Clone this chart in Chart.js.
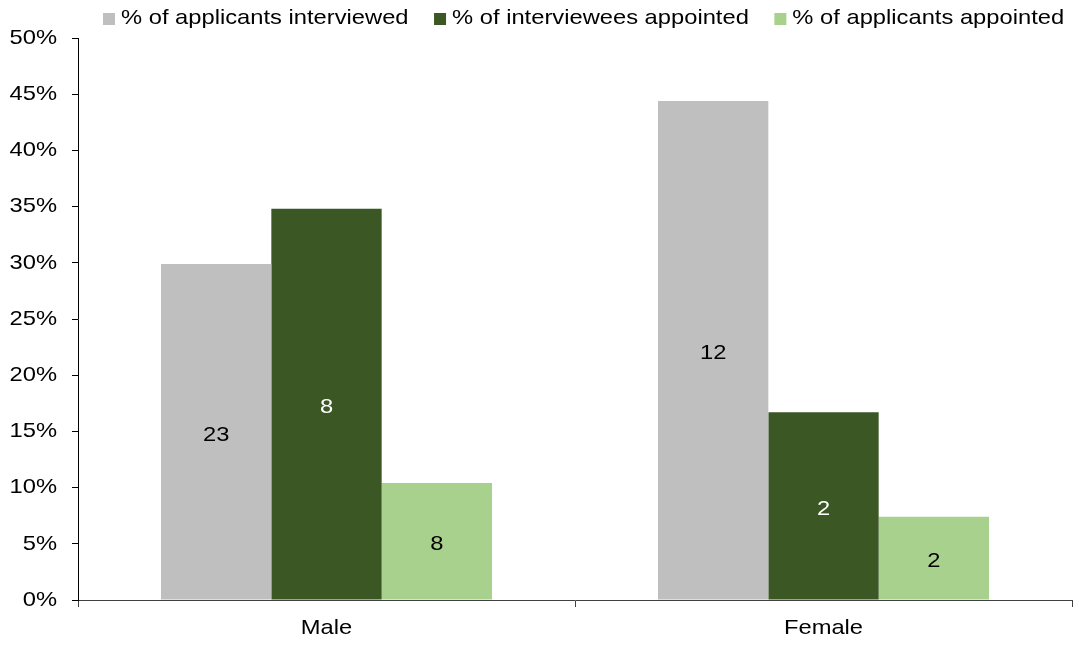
<!DOCTYPE html>
<html lang="en">
<head>
  <meta charset="UTF-8" />
  <title>Interview and appointment rates by gender</title>
  <script src="https://cdn.jsdelivr.net/npm/chart.js"></script>
  <style>
    html, body { margin: 0; padding: 0; background: #fff; }
    .chart-container { width: 1079px; height: 646px; position: relative; }
  </style>
</head>
<body>
<div class="chart-container">
  <canvas id="genderChart"></canvas>
</div>

<script>
  const categories = ["Male", "Female"];
  const seriesNames = ["% of applicants interviewed", "% of interviewees appointed", "% of applicants appointed"];
  const interviewedPct = [29.9, 44.4];
  const intervieweesAppointedPct = [34.8, 16.7];
  const applicantsAppointedPct = [10.4, 7.4];
  // counts printed inside the bars
  const interviewedCount = [23, 12];
  const intervieweesAppointedCount = [8, 2];
  const applicantsAppointedCount = [8, 2];

  const FONT = "'Liberation Sans', Arial, sans-serif";
  const FS = 21;
  const TEXT_STRETCH = 1.13; // original text is a bit wider than plain Arial

  const ctx = document.getElementById("genderChart").getContext("2d");

  // stretch all text horizontally (chart.js measures through the same ctx)
  const protoFill = CanvasRenderingContext2D.prototype.fillText;
  const protoMeasure = CanvasRenderingContext2D.prototype.measureText;
  ctx.fillText = function (text, x, y, maxWidth) {
    this.save();
    this.translate(x, y);
    this.scale(TEXT_STRETCH, 1);
    if (maxWidth === undefined) protoFill.call(this, text, 0, 0);
    else protoFill.call(this, text, 0, 0, maxWidth / TEXT_STRETCH);
    this.restore();
  };
  ctx.measureText = function (text) {
    const m = protoMeasure.call(this, text);
    return {
      width: m.width * TEXT_STRETCH,
      actualBoundingBoxAscent: m.actualBoundingBoxAscent,
      actualBoundingBoxDescent: m.actualBoundingBoxDescent,
      actualBoundingBoxLeft: m.actualBoundingBoxLeft * TEXT_STRETCH,
      actualBoundingBoxRight: m.actualBoundingBoxRight * TEXT_STRETCH
    };
  };

  // writes the counts in the middle of each bar
  const barCounts = {
    id: "barCounts",
    afterDatasetsDraw(chart) {
      const c = chart.ctx;
      c.save();
      c.font = FS + "px " + FONT;
      c.textAlign = "center";
      c.textBaseline = "middle";
      chart.data.datasets.forEach((ds, i) => {
        chart.getDatasetMeta(i).data.forEach((bar, j) => {
          c.fillStyle = ds.labelColor;
          c.fillText(ds.counts[j], bar.x, (bar.y + bar.base) / 2 + 3);
        });
      });
      c.restore();
    }
  };

  // legend row like the original: small square, tight gap, text
  const topLegend = {
    id: "topLegend",
    afterDraw(chart) {
      const c = chart.ctx;
      c.save();
      c.font = FS + "px " + FONT;
      c.textAlign = "left";
      c.textBaseline = "middle";
      let x = 103;
      const y = 18;
      chart.data.datasets.forEach((ds) => {
        c.fillStyle = ds.backgroundColor;
        c.fillRect(x, 13, 12, 12);
        x += 18;
        c.fillStyle = "#000";
        c.fillText(ds.label, x, y);
        x += c.measureText(ds.label).width + 25.5;
      });
      c.restore();
    }
  };

  new Chart(ctx, {
    type: "bar",
    data: {
      labels: categories,
      datasets: [
        {
          label: seriesNames[0],
          data: interviewedPct,
          counts: interviewedCount,
          labelColor: "#000",
          backgroundColor: "#bfbfbf"
        },
        {
          label: seriesNames[1],
          data: intervieweesAppointedPct,
          counts: intervieweesAppointedCount,
          labelColor: "#fff",
          backgroundColor: "#3b5724"
        },
        {
          label: seriesNames[2],
          data: applicantsAppointedPct,
          counts: applicantsAppointedCount,
          labelColor: "#000",
          backgroundColor: "#a9d18e"
        }
      ]
    },
    options: {
      responsive: true,
      maintainAspectRatio: false,
      animation: false,
      categoryPercentage: 0.666,
      barPercentage: 1.0,
      layout: { padding: { left: 0, right: 7, top: 38, bottom: 0 } },
      plugins: {
        legend: { display: false },
        tooltip: { enabled: false }
      },
      scales: {
        x: {
          afterFit: (scale) => { scale.height = 46; },
          grid: {
            display: true,
            drawOnChartArea: false,
            drawTicks: true,
            tickLength: 7,
            color: "#404040"
          },
          border: { display: true, color: "#404040", width: 1 },
          ticks: {
            color: "#000",
            padding: 9,
            font: { family: FONT, size: FS }
          }
        },
        y: {
          min: 0,
          max: 50,
          afterFit: (scale) => { scale.width = 78; },
          grid: {
            display: true,
            drawOnChartArea: false,
            drawTicks: true,
            tickLength: 6,
            color: "#000"
          },
          border: { display: true, color: "#000", width: 1 },
          ticks: {
            stepSize: 5,
            color: "#000",
            padding: 15,
            font: { family: FONT, size: FS },
            callback: (v) => v + "%"
          }
        }
      }
    },
    plugins: [barCounts, topLegend]
  });
</script>
</body>
</html>
